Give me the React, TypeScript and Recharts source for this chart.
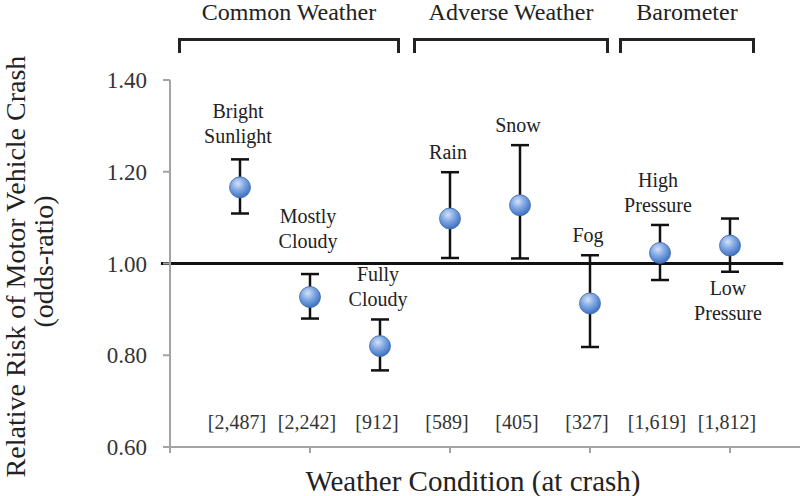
import React from 'react';
import { ScatterChart, Scatter, XAxis, YAxis, ErrorBar, ReferenceLine } from 'recharts';

const conditions = [
  'Bright Sunlight',
  'Mostly Cloudy',
  'Fully Cloudy',
  'Rain',
  'Snow',
  'Fog',
  'High Pressure',
  'Low Pressure',
];
const oddsRatio = [1.166, 0.927, 0.82, 1.098, 1.127, 0.913, 1.023, 1.039];
const ciLower = [1.109, 0.88, 0.767, 1.012, 1.011, 0.818, 0.964, 0.982];
const ciUpper = [1.227, 0.977, 0.878, 1.199, 1.258, 1.018, 1.084, 1.098];
const sampleSizes = ['[2,487]', '[2,242]', '[912]', '[589]', '[405]', '[327]', '[1,619]', '[1,812]'];
const yTicks = [0.6, 0.8, 1.0, 1.2, 1.4];
const groups = ['Common Weather', 'Adverse Weather', 'Barometer'];

const data = conditions.map((name, i) => ({
  name,
  x: i + 1,
  odds: oddsRatio[i],
  lo: ciLower[i],
  hi: ciUpper[i],
  n: sampleSizes[i],
}));

// layout
const W = 800;
const H = 496;
const TOP = 80;
const X_AXIS_H = 49;
const Y_AXIS_W = 170;
const PLOT_H = H - TOP - X_AXIS_H;
const PX_PER_UNIT = PLOT_H / (1.4 - 0.6);
const COUNT_ROW_Y = TOP + PLOT_H - 25;
const FONT = '"Liberation Serif", "Times New Roman", serif';
const INK = '#222';
const AXIS_GRAY = '#a3a3a3';

const bracketSpans = [
  [178, 400],
  [413, 609],
  [619, 755],
];
const labelBelow = ['Low Pressure'];
const labelExtraGap: Record<string, number> = { 'Mostly Cloudy': 13, 'Bright Sunlight': 3 };

function Marker(props: any) {
  const { cx, cy, payload } = props;
  if (cx == null || cy == null) return null;
  const lines: string[] = payload.name.split(' ');
  const lh = 25;
  let ys: number[];
  if (labelBelow.includes(payload.name)) {
    const bottom = cy + (payload.odds - payload.lo) * PX_PER_UNIT;
    ys = lines.map((_, i) => bottom + 16 + i * lh);
  } else {
    const top = cy - (payload.hi - payload.odds) * PX_PER_UNIT;
    const gap = 20 + (labelExtraGap[payload.name] ?? 0);
    ys = lines.map((_, i) => top - gap - (lines.length - 1 - i) * lh);
  }
  return (
    <g fontFamily={FONT} fill={INK}>
      <circle cx={cx} cy={cy} r={10.5} fill="url(#sphere)" stroke="#3a66a8" strokeWidth={0.8} />
      {lines.map((l, i) => (
        <text key={l} x={cx - 2} y={ys[i]} textAnchor="middle" dominantBaseline="central" fontSize={20}>
          {l}
        </text>
      ))}
      <text x={cx - 3} y={COUNT_ROW_Y} textAnchor="middle" dominantBaseline="central" fontSize={20} fill="#333">
        {payload.n}
      </text>
    </g>
  );
}

function YTitle(props: any) {
  const vb = props.viewBox || { y: TOP, height: PLOT_H };
  const cy = vb.y + vb.height / 2;
  return (
    <g fontFamily={FONT} fontSize={28} fill={INK}>
      <text transform={`translate(15,${cy + 3}) rotate(-90)`} textAnchor="middle" dominantBaseline="central">
        Relative Risk of Motor Vehicle Crash
      </text>
      <text transform={`translate(43,${cy - 2}) rotate(-90)`} textAnchor="middle" dominantBaseline="central">
        (odds-ratio)
      </text>
    </g>
  );
}

export default function App() {
  return (
    <div
      style={{
        position: 'absolute',
        left: 0,
        top: 0,
        width: W,
        height: H,
        background: '#fff',
        fontFamily: FONT,
        color: INK,
      }}
    >
      {groups.map((g, i) => {
        const [l, r] = bracketSpans[i];
        return (
          <React.Fragment key={g}>
            <div
              style={{
                position: 'absolute',
                left: l - 60,
                width: r - l + 120,
                top: -2,
                textAlign: 'center',
                fontSize: 24,
                lineHeight: '28px',
                whiteSpace: 'nowrap',
              }}
            >
              {g}
            </div>
            <div
              style={{
                position: 'absolute',
                left: l,
                top: 38,
                width: r - l,
                height: 15,
                boxSizing: 'border-box',
                borderTop: `3px solid ${INK}`,
                borderLeft: `3px solid ${INK}`,
                borderRight: `3px solid ${INK}`,
              }}
            />
          </React.Fragment>
        );
      })}
      <ScatterChart width={W} height={H} margin={{ top: TOP, right: 0, bottom: 0, left: 0 }}>
        <defs>
          <radialGradient id="sphere" cx="40%" cy="32%" r="70%">
            <stop offset="0%" stopColor="#d3e2f8" />
            <stop offset="45%" stopColor="#82a9e3" />
            <stop offset="100%" stopColor="#3b6ec0" />
          </radialGradient>
        </defs>
        <XAxis
          type="number"
          dataKey="x"
          domain={[0, 9]}
          ticks={[0, 2, 4, 6, 8]}
          tickFormatter={() => ''}
          height={X_AXIS_H}
          axisLine={{ stroke: AXIS_GRAY, strokeWidth: 2 }}
          tickLine={{ stroke: AXIS_GRAY, strokeWidth: 2 }}
          tickSize={6}
          label={{
            value: 'Weather Condition (at crash)',
            position: 'insideBottom',
            offset: 5,
            dx: -12,
            style: { fontFamily: FONT, fontSize: 29, fill: INK },
          }}
        />
        <YAxis
          type="number"
          dataKey="odds"
          domain={[0.6, 1.4]}
          ticks={yTicks}
          width={Y_AXIS_W}
          tickFormatter={(v: number) => v.toFixed(2)}
          axisLine={{ stroke: AXIS_GRAY, strokeWidth: 2 }}
          tickLine={{ stroke: AXIS_GRAY, strokeWidth: 2 }}
          tickSize={7}
          tickMargin={16}
          tick={{ fontFamily: FONT, fontSize: 23, fill: '#333' }}
          label={<YTitle />}
        />
        <ReferenceLine
          segment={[
            { x: -0.13, y: 1 },
            { x: 8.76, y: 1 },
          ]}
          ifOverflow="visible"
          stroke="#111"
          strokeWidth={3}
        />
        <Scatter data={data} dataKey="odds" shape={<Marker />} isAnimationActive={false}>
          <ErrorBar
            dataKey={(d: any) => [d.odds - d.lo, d.hi - d.odds]}
            direction="y"
            width={9}
            stroke="#111"
            strokeWidth={2.5}
          />
        </Scatter>
      </ScatterChart>
    </div>
  );
}
